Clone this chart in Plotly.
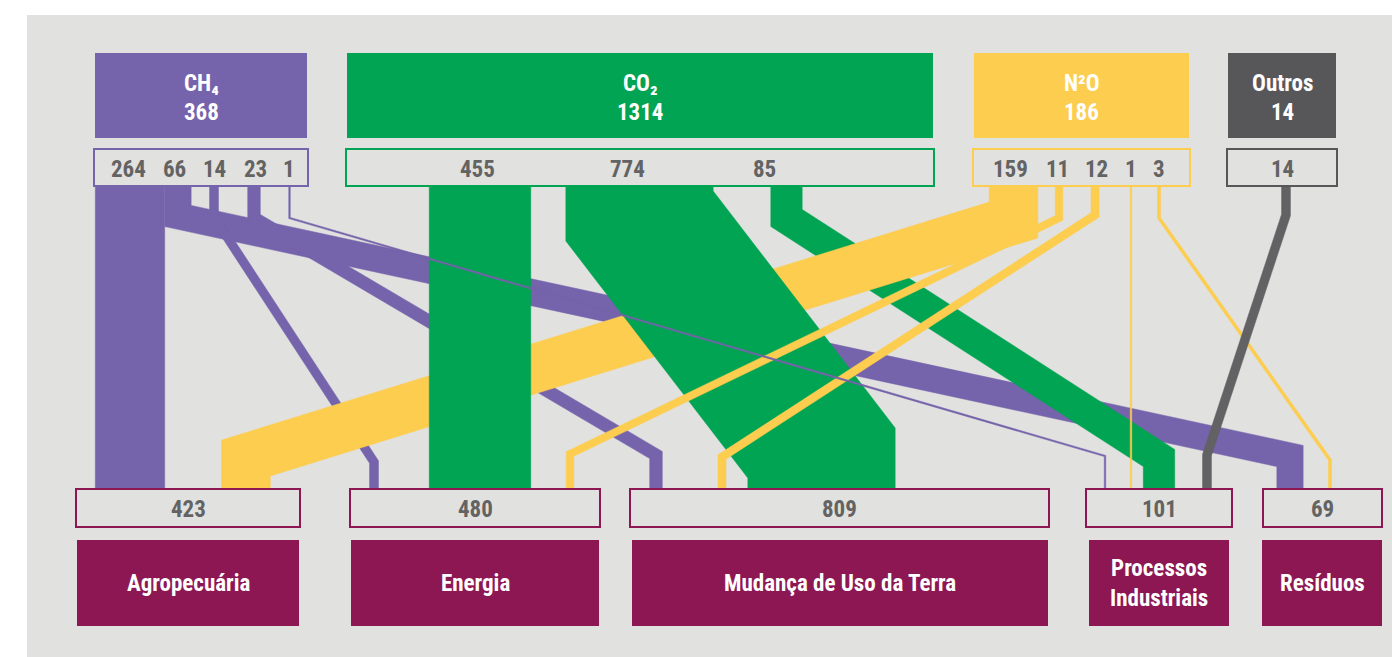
import numpy as np
import plotly.graph_objects as go

# ---------------- data ----------------
gases = ["CH₄", "CO₂", "N²O", "Outros"]
gas_totals = [368, 1314, 186, 14]
sectors = ["Agropecuária", "Energia", "Mudança de Uso da Terra", "Processos<br>Industriais", "Resíduos"]
sector_totals = [423, 480, 809, 101, 69]
# emissions of each gas by sector (order of `sectors`)
ch4 = [264, 14, 23, 1, 66]
co2 = [0, 455, 774, 85, 0]
n2o = [159, 11, 12, 1, 3]
outros = [0, 0, 0, 14, 0]
emissions = [ch4, co2, n2o, outros]

# ---------------- layout / style ----------------
W, H = 1392, 657
BG = "#e1e1df"
gas_colors = ["#7563ab", "#00a452", "#fdcd4f", "#57575a"]
flow_colors = ["#7563ab", "#00a452", "#fdcd4f", "#626264"]
MAROON = "#8c1753"
NUM_GRAY = "#636363"
FONT = "Liberation Sans Narrow, Arial Narrow, Roboto Condensed, DejaVu Sans Condensed, Roboto, sans-serif"

gas_box_x = [(95, 307), (347, 933), (974, 1189), (1228, 1336)]
GAS_Y = (53, 138)
GLAB_Y = (149, 186)
sec_num_x = [(76, 300), (350, 600), (630, 1049), (1086, 1232), (1263, 1382)]
sec_box_x = [(77, 299), (351, 599), (632, 1048), (1089, 1229), (1262, 1382)]
SNUM_Y = (489, 527)
SBOX_Y = (540, 626)
TOP, BOT = 186, 489

# order of the numbers inside each gas label box: (sector index, x of label)
gas_label_layout = [
    [(0, 128), (4, 174), (1, 214), (2, 255), (3, 289)],
    [(1, 477), (2, 627), (3, 764)],
    [(0, 1010), (1, 1057), (2, 1096), (3, 1131), (4, 1159)],
    [(3, 1282)],
]

# flow routing (gas, sector): (source x, top bend y, target x, bottom bend y)
routes = {
    (0, 0): (130, None, 130, None),
    (0, 4): (178, 216, 1290, 456),
    (0, 1): (214, 217, 374, 462),
    (0, 2): (254, 218, 656, 455),
    (0, 3): (289.5, 218, 1105, 456),
    (1, 1): (480, None, 480, None),
    (1, 2): (639.5, 216, 821.5, 453),
    (1, 3): (786.5, 218, 1159, 458),
    (2, 0): (1013.5, 220, 246, 458),
    (2, 1): (1059, 218, 570, 454),
    (2, 2): (1095, 215, 722, 457),
    (2, 3): (1131, None, 1131, None),
    (2, 4): (1159, 218, 1330, 460),
    (3, 3): (1286, 215, 1207, 455),
}
draw_order = [(0, 0), (0, 4), (0, 2), (0, 1), (1, 3), (2, 0), (1, 1), (1, 2),
              (2, 1), (2, 2), (0, 3), (2, 4), (3, 3), (2, 3)]


def band_width(v):
    # compressive scale for band thickness (px)
    return max(1.5, 1.4 * v ** 0.7)


def band_polygon(pts, w):
    pts = np.array(pts, float)
    h = w / 2.0
    d = pts[1:] - pts[:-1]
    d = d / np.linalg.norm(d, axis=1)[:, None]
    nrm = np.stack([-d[:, 1], d[:, 0]], axis=1)
    left, right = [], []
    n = len(pts)
    for i in range(n):
        if i == 0:
            m = nrm[0]
        elif i == n - 1:
            m = nrm[-1]
        else:
            n1, n2 = nrm[i - 1], nrm[i]
            m = (n1 + n2) / (1 + np.dot(n1, n2))
        left.append(pts[i] + h * m)
        right.append(pts[i] - h * m)
    poly = left + right[::-1] + [left[0]]
    xs = [p[0] for p in poly]
    ys = [p[1] for p in poly]
    return xs, ys


fig = go.Figure()

for (g, s) in draw_order:
    v = emissions[g][s]
    sx, y1, tx, y2 = routes[(g, s)]
    if y1 is None:
        pts = [(sx, TOP), (tx, BOT)]
    else:
        pts = [(sx, TOP), (sx, y1), (tx, y2), (tx, BOT)]
    xs, ys = band_polygon(pts, band_width(v))
    fig.add_trace(go.Scatter(
        x=xs, y=ys, mode="lines", fill="toself",
        fillcolor=flow_colors[g], line=dict(color=flow_colors[g], width=0.5),
        hoverinfo="skip", showlegend=False,
    ))

shapes = [dict(type="rect", x0=27, x1=W + 5, y0=15, y1=H + 5, fillcolor=BG,
               line=dict(width=0), layer="below")]
annotations = []


def txt(x, y, text, color, size=23):
    annotations.append(dict(x=x, y=y, xref="x", yref="y", text=text,
                            showarrow=False, xanchor="center", yanchor="middle",
                            font=dict(family=FONT, size=size, color=color, weight="bold")))


for g in range(len(gases)):
    x0, x1 = gas_box_x[g]
    shapes.append(dict(type="rect", x0=x0, x1=x1, y0=GAS_Y[0], y1=GAS_Y[1],
                       fillcolor=gas_colors[g], line=dict(width=0)))
    shapes.append(dict(type="rect", x0=x0 - 1, x1=x1 + 1, y0=GLAB_Y[0], y1=GLAB_Y[1],
                       fillcolor="rgba(0,0,0,0)", line=dict(color=gas_colors[g], width=2)))
    cx = (x0 + x1) / 2
    txt(cx, 83, gases[g], "white")
    txt(cx, 112, str(gas_totals[g]), "white")
    for s, lx in gas_label_layout[g]:
        txt(lx, 169, str(emissions[g][s]), NUM_GRAY)

for s in range(len(sectors)):
    x0, x1 = sec_num_x[s]
    shapes.append(dict(type="rect", x0=x0, x1=x1, y0=SNUM_Y[0], y1=SNUM_Y[1],
                       fillcolor="rgba(0,0,0,0)", line=dict(color=MAROON, width=2)))
    txt((x0 + x1) / 2, 509, str(sector_totals[s]), NUM_GRAY)
    b0, b1 = sec_box_x[s]
    shapes.append(dict(type="rect", x0=b0, x1=b1, y0=SBOX_Y[0], y1=SBOX_Y[1],
                       fillcolor=MAROON, line=dict(width=0)))
    txt((b0 + b1) / 2, 583, sectors[s], "white")

fig.update_layout(
    width=W, height=H, autosize=False,
    margin=dict(l=0, r=0, t=0, b=0, pad=0),
    paper_bgcolor="white", plot_bgcolor="rgba(0,0,0,0)",
    xaxis=dict(range=[0, W], visible=False, fixedrange=True),
    yaxis=dict(range=[H, 0], visible=False, fixedrange=True),
    shapes=shapes, annotations=annotations, showlegend=False,
)

fig.write_html("out.html", config={"displayModeBar": False},
               post_script="document.body.style.margin='0';document.body.style.overflow='hidden';")
